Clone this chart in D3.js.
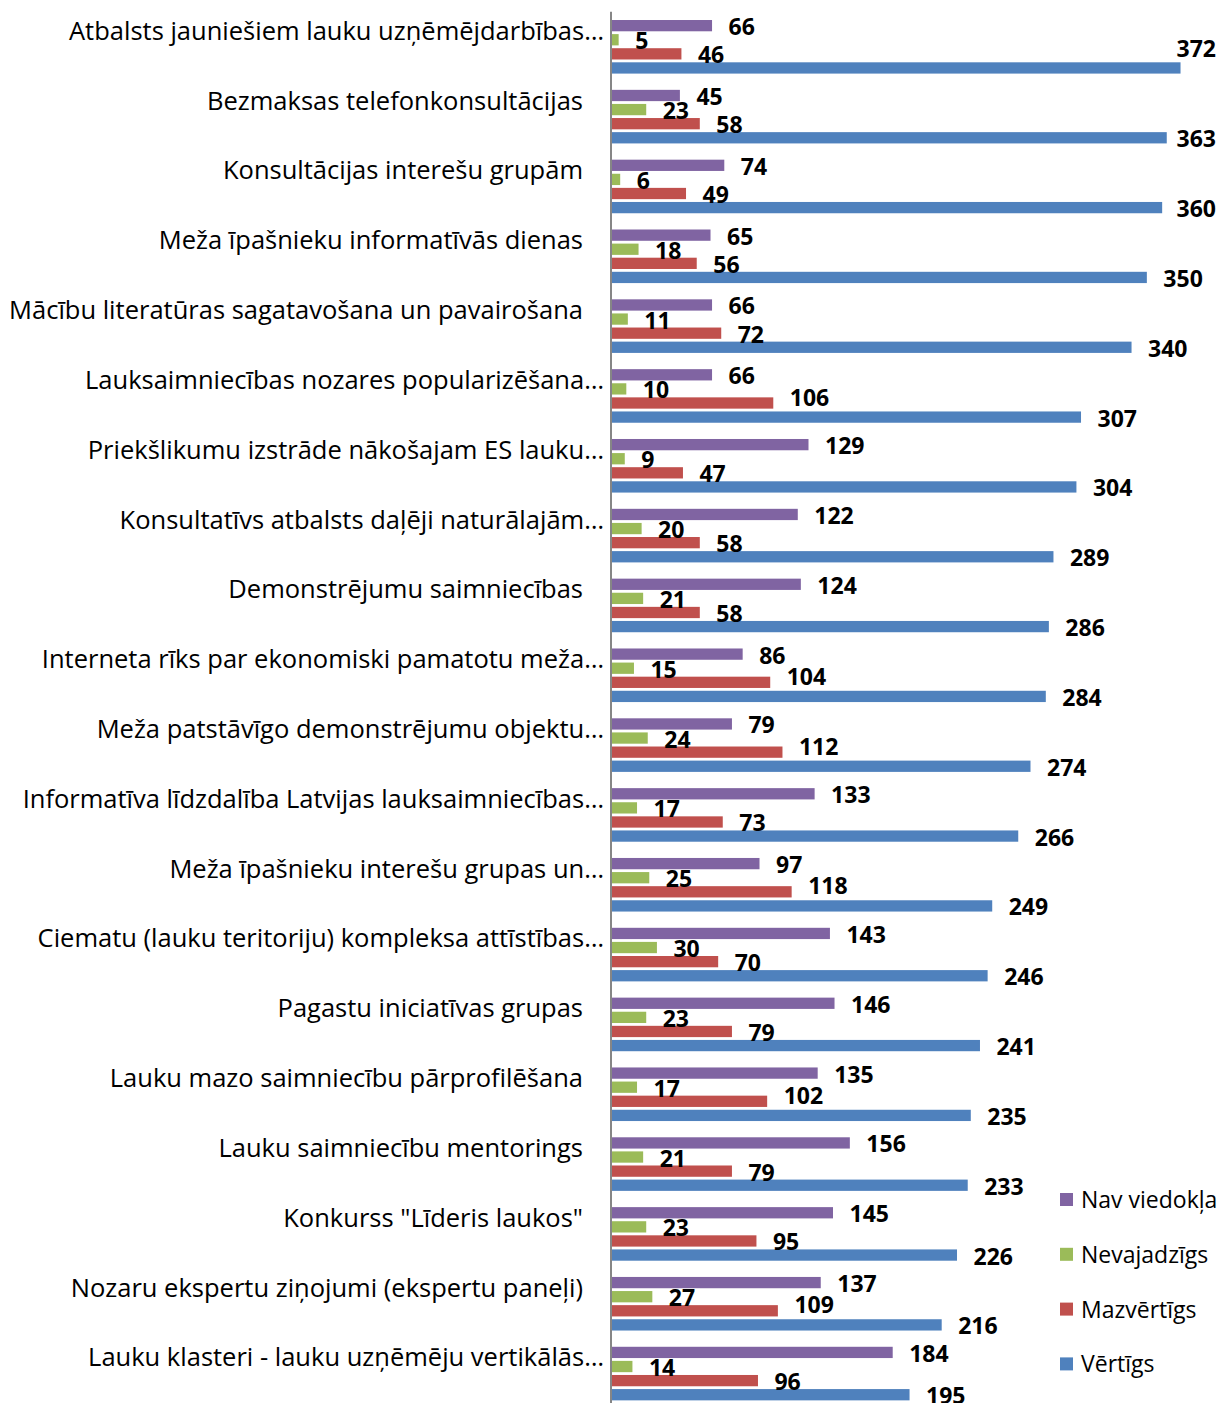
<!DOCTYPE html>
<html>
<head>
<meta charset="utf-8">
<script src="https://cdn.jsdelivr.net/npm/d3@7"></script>
<style>
  html, body { margin: 0; padding: 0; background: #fff; }
  svg { display: block; }
</style>
</head>
<body>
<svg id="chart" width="1221" height="1403"></svg>
<script>
const categories = [
  "Atbalsts jauniešiem lauku uzņēmējdarbības…",
  "Bezmaksas telefonkonsultācijas",
  "Konsultācijas interešu grupām",
  "Meža īpašnieku informatīvās dienas",
  "Mācību literatūras sagatavošana un pavairošana",
  "Lauksaimniecības nozares popularizēšana…",
  "Priekšlikumu izstrāde nākošajam ES lauku…",
  "Konsultatīvs atbalsts daļēji naturālajām…",
  "Demonstrējumu saimniecības",
  "Interneta rīks par ekonomiski pamatotu meža…",
  "Meža patstāvīgo demonstrējumu objektu…",
  "Informatīva līdzdalība Latvijas lauksaimniecības…",
  "Meža īpašnieku interešu grupas un…",
  "Ciematu (lauku teritoriju) kompleksa attīstības…",
  "Pagastu iniciatīvas grupas",
  "Lauku mazo saimniecību pārprofilēšana",
  "Lauku saimniecību mentorings",
  "Konkurss \"Līderis laukos\"",
  "Nozaru ekspertu ziņojumi (ekspertu paneļi)",
  "Lauku klasteri - lauku uzņēmēju vertikālās…"
];
const seriesNames = ["Nav viedokļa", "Nevajadzīgs", "Mazvērtīgs", "Vērtīgs"];
const navViedokla = [66, 45, 74, 65, 66, 66, 129, 122, 124, 86, 79, 133, 97, 143, 146, 135, 156, 145, 137, 184];
const nevajadzigs = [5, 23, 6, 18, 11, 10, 9, 20, 21, 15, 24, 17, 25, 30, 23, 17, 21, 23, 27, 14];
const mazvertigs = [46, 58, 49, 56, 72, 106, 47, 58, 58, 104, 112, 73, 118, 70, 79, 102, 79, 95, 109, 96];
const vertigs = [372, 363, 360, 350, 340, 307, 304, 289, 286, 284, 274, 266, 249, 246, 241, 235, 233, 226, 216, 195];
const seriesValues = [navViedokla, nevajadzigs, mazvertigs, vertigs];
const colors = ["#8064A2", "#9BBB59", "#C0504D", "#4F81BD"];

const svg = d3.select("#chart");
const W = 1221, H = 1403;
const axisX = 611;
const rightLimit = 1216;
const FONT = "'Open Sans', 'Noto Sans', sans-serif";

const x = d3.scaleLinear().domain([0, 400]).range([axisX, axisX + 400 * 1.531]);
const y0 = d3.scaleBand().domain(categories).range([11.7, 11.7 + 20 * 69.83]).padding(0);
const y1 = d3.scaleBand().domain(seriesNames).range([6.9, 63.3]).paddingInner(0.2).paddingOuter(0.1);

const rows = [];
categories.forEach((c, i) => {
  seriesNames.forEach((s, j) => {
    rows.push({cat: c, series: s, si: j, value: seriesValues[j][i]});
  });
});

// bars
svg.append("g").selectAll("rect").data(rows).join("rect")
  .attr("x", axisX)
  .attr("y", d => y0(d.cat) + y1(d.series))
  .attr("width", d => x(d.value) - axisX)
  .attr("height", y1.bandwidth())
  .attr("fill", d => colors[d.si]);

// axis line
svg.append("line")
  .attr("x1", axisX).attr("x2", axisX)
  .attr("y1", y0.range()[0]).attr("y2", H)
  .attr("stroke", "#868686").attr("stroke-width", 2);

// category labels
svg.append("g").selectAll("text").data(categories).join("text")
  .attr("x", d => d.endsWith("…") ? 604 : 583)
  .attr("y", d => y0(d) + 28)
  .attr("text-anchor", "end")
  .attr("font-family", FONT)
  .attr("font-size", 25.5)
  .attr("fill", "#000")
  .text(d => d);

// value labels
const lblG = svg.append("g");
rows.forEach(d => {
  const barEnd = x(d.value);
  const cy = y0(d.cat) + y1(d.series) + y1.bandwidth() / 2;
  const t = lblG.append("text")
    .attr("font-family", FONT)
    .attr("font-weight", "bold")
    .attr("font-size", 23)
    .attr("fill", "#000")
    .text(d.value);
  const w = t.node().getComputedTextLength();
  let lx = barEnd + 16.5;
  let ly = cy + 9.5;
  if (d.si === 2 && d.value >= 100) ly -= 7;
  if (lx + w > rightLimit) {
    lx = rightLimit - w;
    if (lx < barEnd) ly -= 20;
  }
  t.attr("x", lx).attr("y", ly);
});

// legend
const legend = svg.append("g");
seriesNames.forEach((s, j) => {
  const cy = 1200 + j * 54.8;
  legend.append("rect")
    .attr("x", 1060).attr("y", cy - 7).attr("width", 13).attr("height", 13)
    .attr("fill", colors[j]);
  legend.append("text")
    .attr("x", 1081).attr("y", cy + 8)
    .attr("font-family", FONT)
    .attr("font-size", 23)
    .attr("fill", "#000")
    .text(s);
});
</script>
</body>
</html>
